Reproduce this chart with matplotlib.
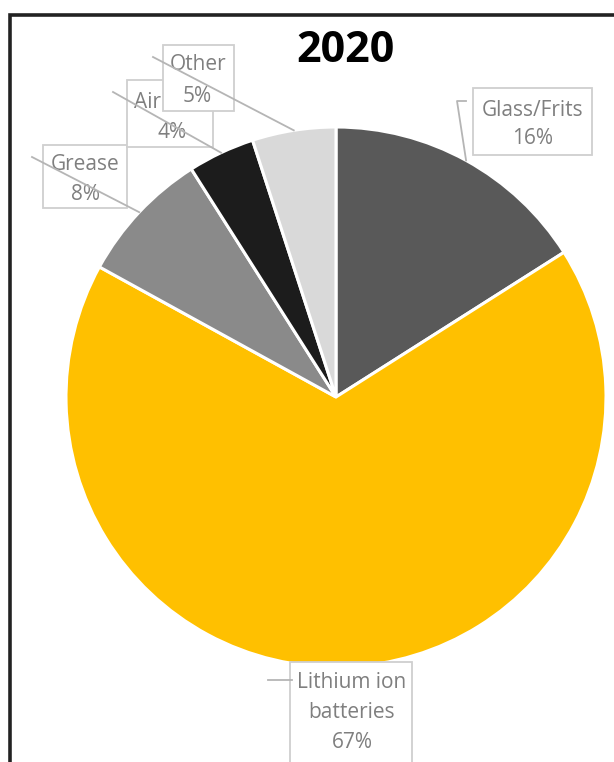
import numpy as np
import matplotlib.pyplot as plt
from matplotlib.patches import Rectangle

# share of each source, 2020
labels = ['Glass/Frits', 'Lithium ion\nbatteries', 'Grease', 'Air', 'Other']
shares = [16, 67, 8, 4, 5]
colors = ['#595959', '#FFC000', '#8a8a8a', '#1c1c1c', '#d9d9d9']
title = '2020'

W, H = 614, 762
fig = plt.figure(figsize=(W / 100, H / 100), dpi=100)
ax = fig.add_axes([0, 0, 1, 1])
ax.set_xlim(0, W)
ax.set_ylim(0, H)
ax.set_aspect('equal')
ax.axis('off')

def fy(y):
    # image rows run downwards
    return H - y

cx, cy, R = 336, fy(397), 270
wedges, _ = ax.pie(shares, colors=colors, startangle=90, counterclock=False,
                   center=(cx, cy), radius=R,
                   wedgeprops=dict(edgecolor='white', linewidth=2.2))
ax.set_xlim(0, W)
ax.set_ylim(0, H)

# label boxes (x0, y0, x1, y1) and text centre, in pixel rows
boxes = {
    'Air': ((127, 80, 213, 147), [(148, 102, 'Air'), (172, 132, '4%')]),
    'Other': ((163, 45, 234, 111), [(198, 65, 'Other'), (197, 96, '5%')]),
    'Grease': ((43, 145, 127, 208), [(85, 164, 'Grease'), (85, 194, '8%')]),
    'Glass/Frits': ((473, 88, 592, 155), [(533, 110, 'Glass/Frits'), (533, 138, '16%')]),
    'Lithium': ((290, 662, 412, 775), [(352, 683, 'Lithium ion'), (352, 713, 'batteries'), (352, 742, '67%')]),
}
txt_kw = dict(family='Open Sans', fontsize=15, color='#7f7f7f', ha='center', va='center')
for key in ['Grease', 'Glass/Frits', 'Lithium', 'Air', 'Other']:
    (x0, y0, x1, y1), lines = boxes[key]
    ax.add_patch(Rectangle((x0, fy(y1)), x1 - x0, y1 - y0, facecolor='white',
                           edgecolor='#cfcfcf', linewidth=1.3, zorder=3))
    for tx, ty, s in lines:
        ax.text(tx, fy(ty), s, zorder=4, **txt_kw)

# leader lines from the middle of each wedge's arc
def arc_mid(w):
    a = np.deg2rad((w.theta1 + w.theta2) / 2)
    return cx + R * np.cos(a), cy + R * np.sin(a)

lead_kw = dict(color='#b5b5b5', linewidth=1.3, zorder=5)
ends = {2: (32, 157), 3: (113, 92), 4: (153, 57)}
for i, (ex, ey) in ends.items():
    mx, my = arc_mid(wedges[i])
    ax.plot([mx, ex], [my, fy(ey)], **lead_kw)
mx, my = arc_mid(wedges[0])
ax.plot([mx, 457, 466], [my, fy(101), fy(101)], **lead_kw)
ax.plot([268, 292], [fy(680), fy(680)], **lead_kw)

ax.text(345, fy(62), title, family='Open Sans', fontweight='bold', fontsize=31,
        color='black', ha='center', va='baseline', zorder=6)

# chart frame, cut off on the right and bottom
ax.plot([9.5, 9.5, W + 5], [-5, fy(15), fy(15)], color='#222222', linewidth=2.6,
        solid_joinstyle='miter', zorder=6)

fig.savefig('out.png', dpi=100)
